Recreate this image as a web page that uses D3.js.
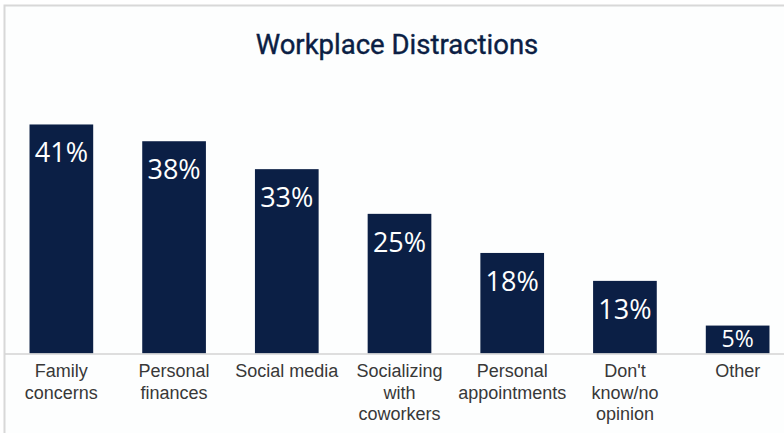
<!DOCTYPE html>
<html>
<head>
<meta charset="utf-8">
<script src="https://cdn.jsdelivr.net/npm/d3@7"></script>
<style>
  html, body { margin: 0; padding: 0; background: #ffffff; }
  svg { display: block; }
</style>
</head>
<body>
<svg id="chart" width="784" height="433"></svg>
<script>
// Share of workers naming each distraction
const categories = [
  ["Family", "concerns"],
  ["Personal", "finances"],
  ["Social media"],
  ["Socializing", "with", "coworkers"],
  ["Personal", "appointments"],
  ["Don't", "know/no", "opinion"],
  ["Other"]
];
const values = [41, 38, 33, 25, 18, 13, 5];
const chartTitle = "Workplace Distractions";

const W = 784, H = 433;
const svg = d3.select("#chart");

// Panel with a light frame on the top and left
svg.append("rect")
  .attr("x", 4.5).attr("y", 5.5)
  .attr("width", W + 20).attr("height", H + 20)
  .attr("fill", "#fdfefe")
  .attr("stroke", "#d8d8d8")
  .attr("stroke-width", 2);

const x = d3.scaleBand()
  .domain(d3.range(values.length))
  .range([5, 794])
  .paddingInner(0.435)
  .paddingOuter(0.2175);

const baseY = 353.5;
const y = d3.scaleLinear()
  .domain([0, 50])
  .range([baseY, baseY - 279.3]);

// Title
svg.append("text")
  .attr("x", 397).attr("y", 54)
  .attr("text-anchor", "middle")
  .attr("font-family", "Roboto, 'Liberation Sans', sans-serif")
  .attr("font-size", 27.5)
  .attr("stroke", "#0b1e44")
  .attr("stroke-width", 0.4)
  .attr("fill", "#0b1e44")
  .text(chartTitle);

// Bars
svg.append("g").selectAll("rect")
  .data(values)
  .join("rect")
  .attr("x", (d, i) => x(i))
  .attr("y", d => y(d))
  .attr("width", x.bandwidth())
  .attr("height", d => y(0) - y(d))
  .attr("fill", "#0b1f45");

// Value labels inside the bars
svg.append("g").selectAll("text")
  .data(values)
  .join("text")
  .attr("x", (d, i) => x(i) + x.bandwidth() / 2)
  .attr("y", d => (y(0) - y(d) > 50) ? y(d) + 38 : y(0) - 6.5)
  .attr("text-anchor", "middle")
  .attr("font-family", "'Open Sans', sans-serif")
  .attr("font-size", d => (y(0) - y(d) > 50) ? 27 : 23)
  .attr("fill", "#ffffff")
  .text(d => d + "%");

// Baseline
const axis = d3.axisBottom(x).tickSize(0).tickFormat("");
const axisG = svg.append("g")
  .attr("transform", `translate(0,${baseY})`)
  .call(axis);
axisG.select(".domain").remove();
svg.append("line")
  .attr("x1", 5).attr("x2", W)
  .attr("y1", baseY + 0.5).attr("y2", baseY + 0.5)
  .attr("stroke", "#d3d3d3")
  .attr("stroke-width", 1.5);

// Category labels, one line per tspan
const labels = svg.append("g").selectAll("text")
  .data(categories)
  .join("text")
  .attr("text-anchor", "middle")
  .attr("font-family", "'Liberation Sans', Arial, sans-serif")
  .attr("font-size", 18)
  .attr("fill", "#383838");

labels.each(function (lines, i) {
  const cx = x(i) + x.bandwidth() / 2;
  d3.select(this).selectAll("tspan")
    .data(lines)
    .join("tspan")
    .attr("x", cx)
    .attr("y", (d, j) => 377 + j * 21.5)
    .text(d => d);
});
</script>
</body>
</html>
